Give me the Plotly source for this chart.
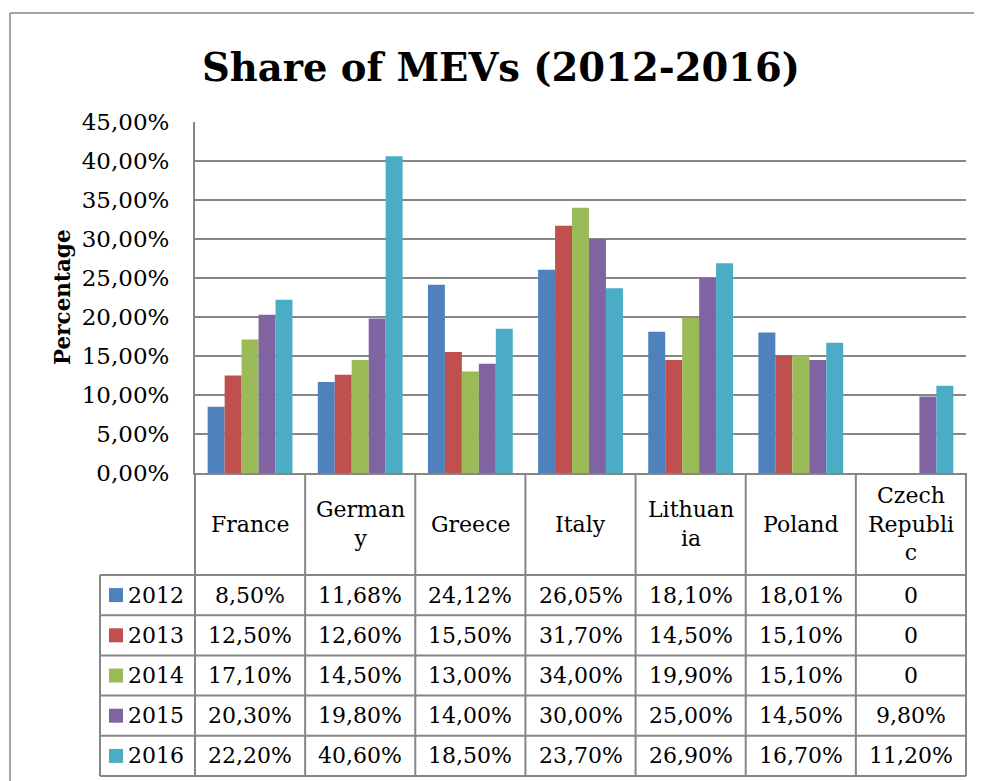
import plotly.graph_objects as go

countries = ["France", "Germany", "Greece", "Italy", "Lithuania", "Poland", "Czech Republic"]
header_labels = ["France", "German<br>y", "Greece", "Italy", "Lithuan<br>ia", "Poland", "Czech<br>Republi<br>c"]
years = ["2012", "2013", "2014", "2015", "2016"]

share_2012 = [0.0850, 0.1168, 0.2412, 0.2605, 0.1810, 0.1801, 0]
share_2013 = [0.1250, 0.1260, 0.1550, 0.3170, 0.1450, 0.1510, 0]
share_2014 = [0.1710, 0.1450, 0.1300, 0.3400, 0.1990, 0.1510, 0]
share_2015 = [0.2030, 0.1980, 0.1400, 0.3000, 0.2500, 0.1450, 0.0980]
share_2016 = [0.2220, 0.4060, 0.1850, 0.2370, 0.2690, 0.1670, 0.1120]

series = [share_2012, share_2013, share_2014, share_2015, share_2016]
colors = ['#4F81BD', '#C0504D', '#9BBB59', '#8064A2', '#4BACC6']

FONT = "DejaVu Serif"
GRID = '#868686'

# page geometry (pixels); the page body has an 8px margin, so shift back
# and shrink the figure so it fits the window without scrollbars
OFF = 8
W, H = 982 - OFF, 781 - OFF
L, R, T, B = 195 - OFF, 966 - OFF, 122 - OFF, 473 - OFF
HEADER_BOTTOM = 575 - OFF
ROW_H = 40.2
LEGEND_LEFT = 100 - OFF


def px_x(x):
    return (x - L) / (R - L)


def px_y(y):
    return (B - y) / (B - T)


def fmt(v):
    if v == 0:
        return "0"
    return f"{v * 100:.2f}%".replace('.', ',')


fig = go.Figure()
for year, vals, col in zip(years, series, colors):
    fig.add_trace(go.Bar(x=countries, y=vals, name=year,
                         marker=dict(color=col, line=dict(width=0))))

shapes = []
annotations = []
line = dict(color=GRID, width=2)
n = len(countries)
col_w = (R - L) / n
table_bottom = HEADER_BOTTOM + ROW_H * len(years)
txt = dict(family=FONT, size=22, color='black')

# horizontal table lines
for i in range(len(years) + 1):
    y = HEADER_BOTTOM + ROW_H * i
    shapes.append(dict(type='line', xref='paper', yref='paper',
                       x0=px_x(LEGEND_LEFT), x1=px_x(R), y0=px_y(y), y1=px_y(y), line=line))
# vertical table lines
shapes.append(dict(type='line', xref='paper', yref='paper', x0=px_x(LEGEND_LEFT), x1=px_x(LEGEND_LEFT),
                   y0=px_y(HEADER_BOTTOM), y1=px_y(table_bottom), line=line))
for j in range(n + 1):
    x = L + col_w * j
    shapes.append(dict(type='line', xref='paper', yref='paper', x0=px_x(x), x1=px_x(x),
                       y0=px_y(B), y1=px_y(table_bottom), line=line))

# header (category names)
for j, lab in enumerate(header_labels):
    annotations.append(dict(x=px_x(L + col_w * (j + 0.5)), y=px_y((B + HEADER_BOTTOM) / 2),
                            xref='paper', yref='paper', text=lab, showarrow=False,
                            xanchor='center', yanchor='middle', font=txt))

# data rows with legend keys
for i, (year, vals, col) in enumerate(zip(years, series, colors)):
    yc = HEADER_BOTTOM + ROW_H * (i + 0.5)
    shapes.append(dict(type='rect', xref='paper', yref='paper',
                       x0=px_x(109 - OFF), x1=px_x(123 - OFF), y0=px_y(yc - 7), y1=px_y(yc + 7),
                       fillcolor=col, line=dict(width=0)))
    annotations.append(dict(x=px_x(126 - OFF), y=px_y(yc), xref='paper', yref='paper', text=year,
                            showarrow=False, xanchor='left', yanchor='middle', font=txt))
    for j, v in enumerate(vals):
        annotations.append(dict(x=px_x(L + col_w * (j + 0.5)), y=px_y(yc), xref='paper', yref='paper',
                                text=fmt(v), showarrow=False, xanchor='center', yanchor='middle',
                                font=txt))

# outer chart border (only top and left edges are visible)
border = dict(color=GRID, width=1.5)
shapes.append(dict(type='line', xref='paper', yref='paper',
                   x0=px_x(10 - OFF), x1=px_x(W), y0=px_y(13 - OFF), y1=px_y(13 - OFF), line=border))
shapes.append(dict(type='line', xref='paper', yref='paper',
                   x0=px_x(10 - OFF), x1=px_x(10 - OFF), y0=px_y(13 - OFF), y1=px_y(H), line=border))

# y axis title
annotations.append(dict(x=px_x(62 - OFF), y=px_y(297 - OFF), xref='paper', yref='paper',
                        text="<b>Percentage</b>", showarrow=False, textangle=-90,
                        xanchor='center', yanchor='middle',
                        font=dict(family=FONT, size=21.5, color='black')))

fig.update_layout(
    width=W, height=H,
    margin=dict(l=L, r=W - R, t=T, b=H - B),
    paper_bgcolor='white', plot_bgcolor='white',
    separators=',.',
    title=dict(text="<b>Share of MEVs (2012-2016)</b>", xref='container', yref='container',
               x=(501 - OFF) / W, y=1 - (68 - OFF) / H, xanchor='center', yanchor='middle',
               font=dict(family=FONT, size=38.5, color='black')),
    barmode='group', bargap=0.23, bargroupgap=0,
    showlegend=False,
    shapes=shapes, annotations=annotations,
    font=dict(family=FONT, color='black'),
)
fig.update_yaxes(range=[0, 0.45], dtick=0.05, tickformat='.2%', showgrid=True,
                 gridcolor=GRID, gridwidth=2, showline=True, linecolor=GRID, linewidth=2,
                 ticks='', ticklabelstandoff=19, tickfont=dict(family=FONT, size=23, color='black'),
                 zeroline=False)
fig.update_xaxes(showticklabels=False, showline=True, linecolor=GRID, linewidth=2,
                 ticks='', showgrid=False)

fig.write_html("out.html")
